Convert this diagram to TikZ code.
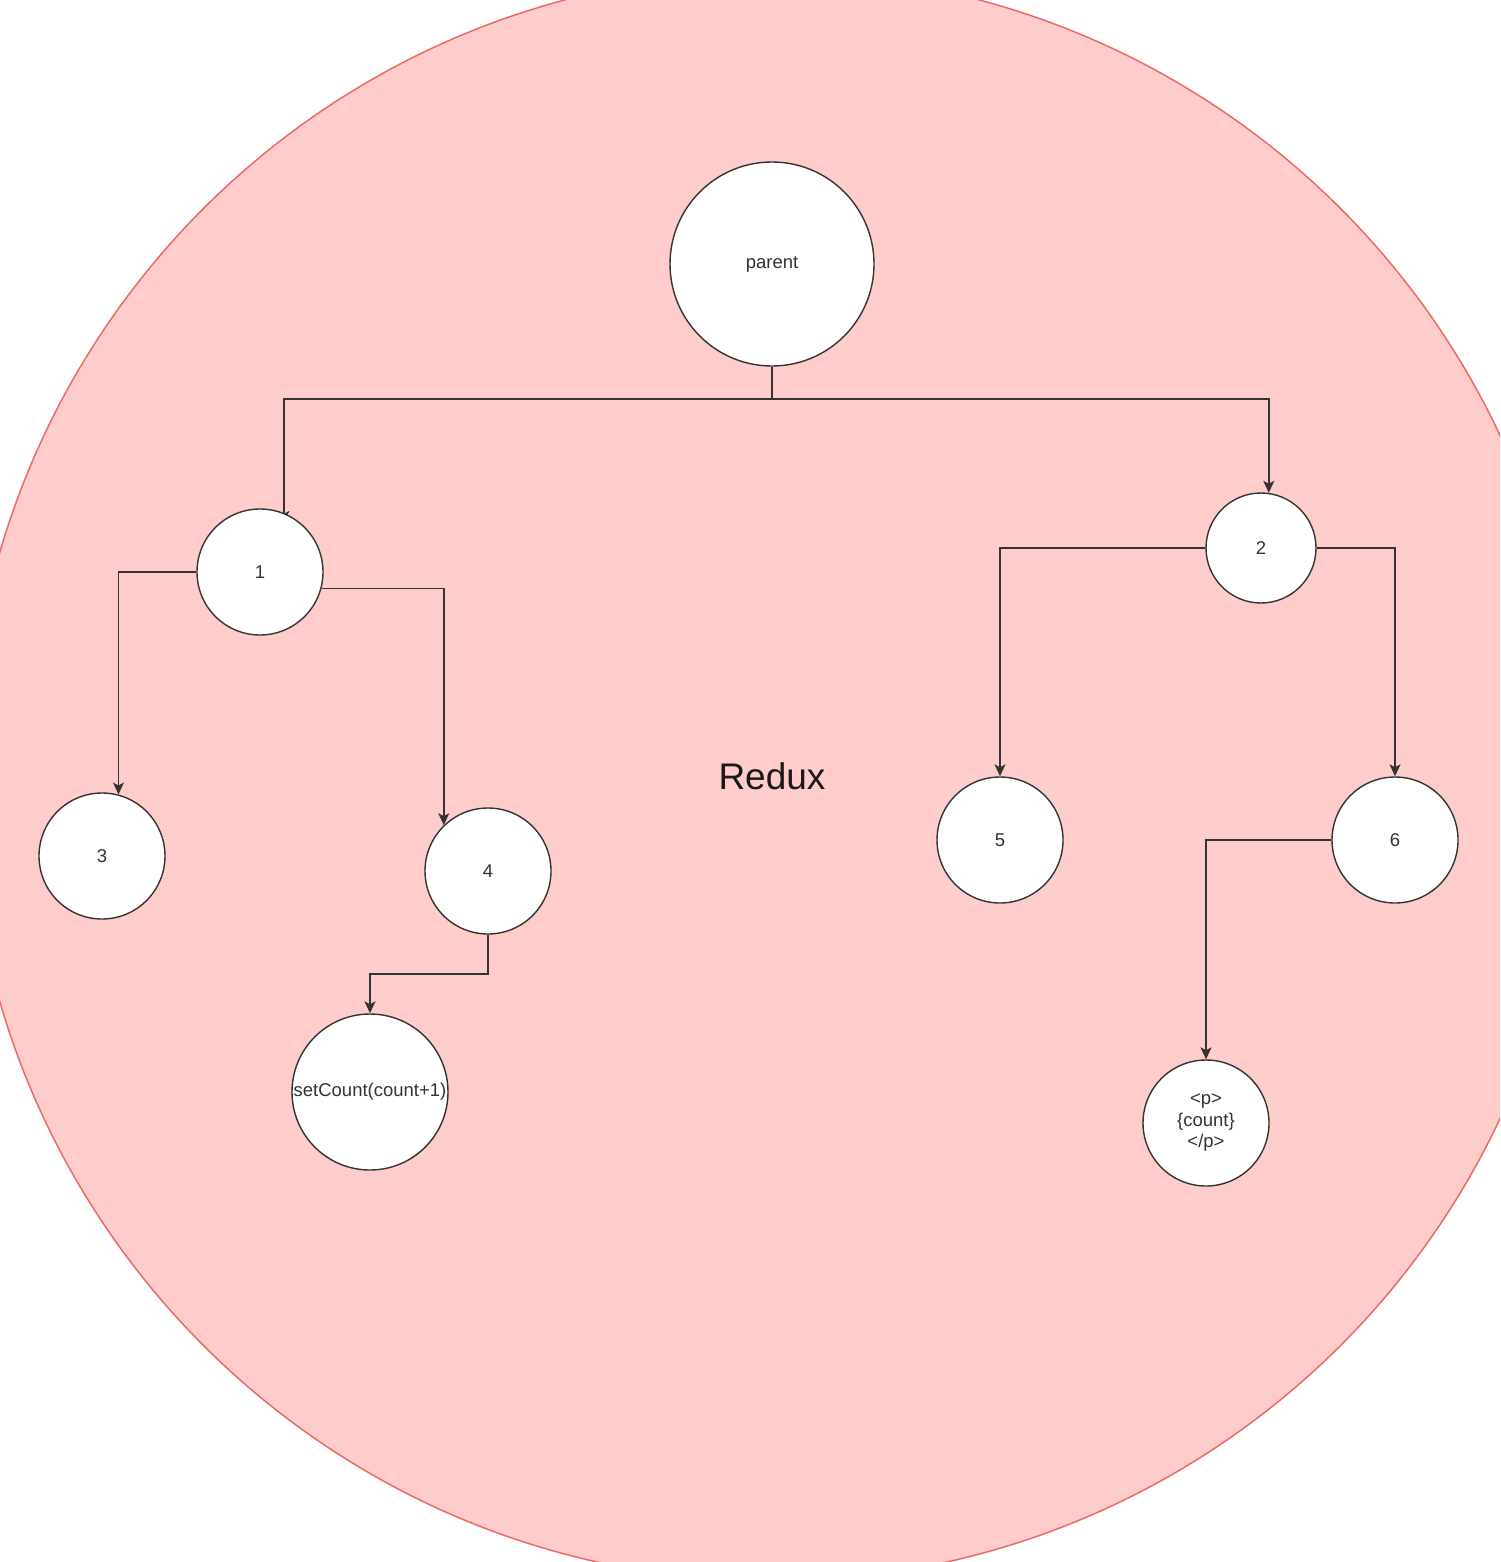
\documentclass[tikz,border=0pt]{standalone}
\usepackage{fontspec}
\setmainfont{Liberation Sans}
\usetikzlibrary{arrows.meta}
\definecolor{bigfill}{HTML}{FFCCCC}
\definecolor{bigline}{HTML}{EA6B66}
\definecolor{ink}{HTML}{333333}
\pgfdeclarelayer{bg}
\pgfdeclarelayer{edges}
\pgfsetlayers{bg,edges,main}
\tikzset{
  circ/.style={circle, draw=ink, line width=1.4pt, fill=white, inner sep=0pt,
    text=ink, font=\fontsize{18.5}{21.5}\selectfont, align=center},
  conn/.style={draw=ink, line width=1.6pt, -{Stealth[length=12pt,width=11pt,inset=3pt]}},
}
\begin{document}
\begin{tikzpicture}[x=1pt,y=-1pt]
\useasboundingbox (0,0) rectangle (1500,1562);
\begin{pgfonlayer}{bg}
  \begin{scope}
    \clip (0,0) rectangle (1500,1562);
    \draw[bigline, fill=bigfill, line width=1.5pt] (772,777) circle[radius=804pt];
  \end{scope}
\end{pgfonlayer}

\node[circ, minimum size=204pt] (parent) at (772,264) {parent};
\node[circ, minimum size=126pt] (n1) at (260,572) {1};
\node[circ, minimum size=110pt] (n2) at (1261,548) {2};
\node[circ, minimum size=126pt] (n3) at (102,856) {3};
\node[circ, minimum size=126pt] (n4) at (488,871) {4};
\node[circ, minimum size=126pt] (n5) at (1000,840) {5};
\node[circ, minimum size=126pt] (n6) at (1395,840) {6};
\node[circ, minimum size=156pt] (sc) at (370,1092) {setCount(count+1)};
\node[circ, minimum size=126pt] (pc) at (1206,1123) {<p>\\\{count\}\\</p>};
\node[text=black!90, font=\fontsize{37}{40}\selectfont] (redux) at (772,776) {Redux};

\begin{pgfonlayer}{edges}
  \draw[ink, line width=1.6pt] (parent.south) -- ++(0,32) coordinate (pj);
  \draw[conn, shorten >=-10pt] (pj) -| (n1.68);
  \draw[conn] (pj) -| (n2.82);
  \draw[conn] (n1.west) -| (n3.75);
  \draw[conn] (n1.-15) -| (n4.134);
  \draw[conn] (n2.west) -| (n5.north);
  \draw[conn] (n2.east) -| (n6.north);
  \draw[conn] (n4.south) -- ++(0,39) -| (sc.north);
  \draw[conn] (n6.west) -| (pc.north);
\end{pgfonlayer}
\end{tikzpicture}
\end{document}
